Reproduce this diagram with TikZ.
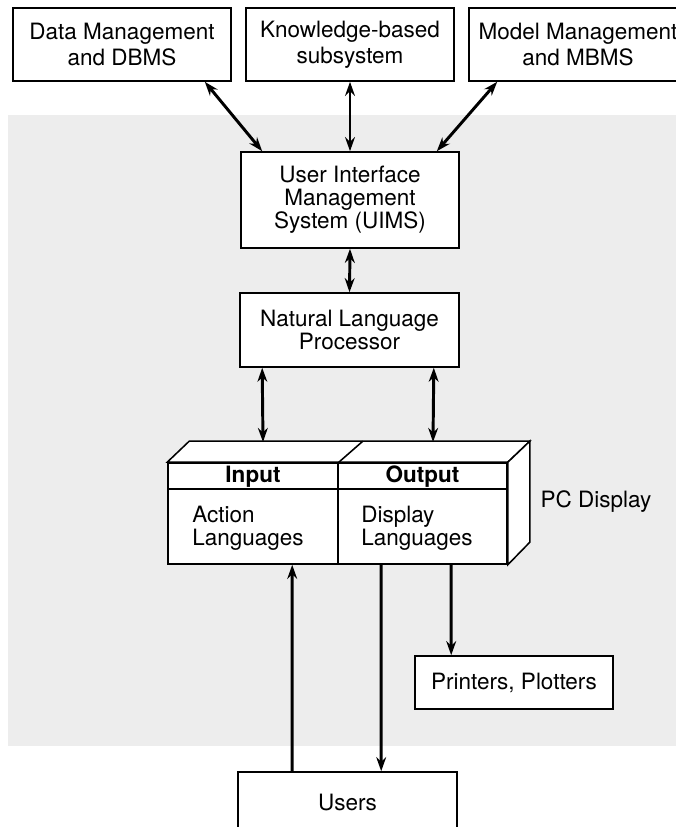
\documentclass[tikz,border=0pt]{standalone}
\usepackage{fontspec}
\setmainfont{TeX Gyre Heros}
\usetikzlibrary{arrows.meta,calc}
\tikzset{
    % boxes, labels and arrows
    mybox/.style={draw, line width=1.1pt, fill=white, align=center, inner sep=0pt},
    mylab/.style={font=\fontsize{16}{16.5}\selectfont},
    toplab/.style={font=\fontsize{16}{18.5}\selectfont},
    hdrlab/.style={font=\fontsize{16}{16.5}\selectfont\bfseries},
    myarr/.style={-{Stealth[length=10pt,width=7pt]}, line width=2.1pt},
    dblarr/.style={{Stealth[length=10pt,width=7pt]}-{Stealth[length=10pt,width=7pt]}, line width=2.1pt},
}
\begin{document}
\begin{tikzpicture}[x=0.025cm,y=-0.025cm]
    \useasboundingbox (0,0) rectangle (676,827);
    % shaded ground
    \fill[black!7] (8,115) rectangle (676,746);

    % TOP ROW
    \node (DM) at (122,44.5) [mybox, toplab, minimum width=5.45cm, minimum height=1.825cm] {Data Management\\and DBMS};
    \node (KB) at (350,44.5) [mybox, toplab, minimum width=5.2cm, minimum height=1.825cm] {Knowledge-based\\subsystem};
    \node (MM) at (578,44.5) [mybox, toplab, minimum width=5.45cm, minimum height=1.825cm] {Model Management\\and MBMS};

    \node (UIMS) at (350,200) [mybox, mylab, minimum width=5.45cm, minimum height=2.4cm] {User Interface\\Management\\System (UIMS)};
    \node (NLP) at (349.5,330) [mybox, mylab, minimum width=5.475cm, minimum height=1.85cm] {Natural Language\\Processor};

    % PC DISPLAY
    \node (IN) at (253,513.5) [mybox, minimum width=4.25cm, minimum height=2.525cm] {};
    \node (OUT) at (422.5,513.5) [mybox, minimum width=4.225cm, minimum height=2.525cm] {};
    \draw[line width=1.1pt, fill=white] (IN.north west) -- ++(22,-21) -- ($(OUT.north east)+(22,-21)$) -- (OUT.north east) -- cycle;
    \draw[line width=1.1pt, fill=white] (OUT.north east) -- ++(22,-21) -- ++(0,101) -- (OUT.south east) -- cycle;
    \draw[line width=1.1pt] (IN.north east) -- ++(24,-21);
    \draw[line width=1.1pt] ($(IN.north west)+(0,27)$) -- ($(OUT.north east)+(0,27)$);
    \coordinate (TIN) at (263,442);
    \coordinate (TOUT) at (433,442);

    \node (INH) at (253,477) [hdrlab, inner sep=0pt] {Input};
    \node (OUTH) at (422.5,477) [hdrlab, inner sep=0pt] {Output};
    \node (ACT) at (192,528.5) [mylab, anchor=west, align=left, inner sep=0pt] {Action\\Languages};
    \node (DSP) at (361,528.5) [mylab, anchor=west, align=left, inner sep=0pt] {Display\\Languages};
    \node (PC) at (596,502) [mylab, inner sep=0pt] {PC Display};

    \node (PRN) at (514,682.5) [mybox, mylab, minimum width=4.95cm, minimum height=1.325cm] {Printers, Plotters};
    \node (USR) at (347.5,802) [mybox, mylab, minimum width=5.475cm, minimum height=1.5cm] {Users};

    % ARROWS
    \draw[dblarr] ($(UIMS.north west)+(22,0)$) -- ($(DM.south east)+(-27,0)$);
    \draw[dblarr] (UIMS.north) -- (KB.south);
    \draw[dblarr] ($(UIMS.north east)+(-23,0)$) -- ($(MM.south west)+(29,0)$);
    \draw[dblarr] (UIMS.south) -- (NLP.north);
    \draw[dblarr] ($(NLP.south west)+(23,0)$) -- (TIN);
    \draw[dblarr] ($(NLP.south east)+(-26,0)$) -- (TOUT);
    \draw[myarr] ($(USR.north west)+(55,0)$) -- ($(IN.south west)+(125,0)$);
    \draw[myarr] ($(OUT.south west)+(44,0)$) -- ($(USR.north west)+(144,0)$);
    \draw[myarr] ($(OUT.south west)+(114,0)$) -- ($(PRN.north west)+(37,0)$);
\end{tikzpicture}
\end{document}
